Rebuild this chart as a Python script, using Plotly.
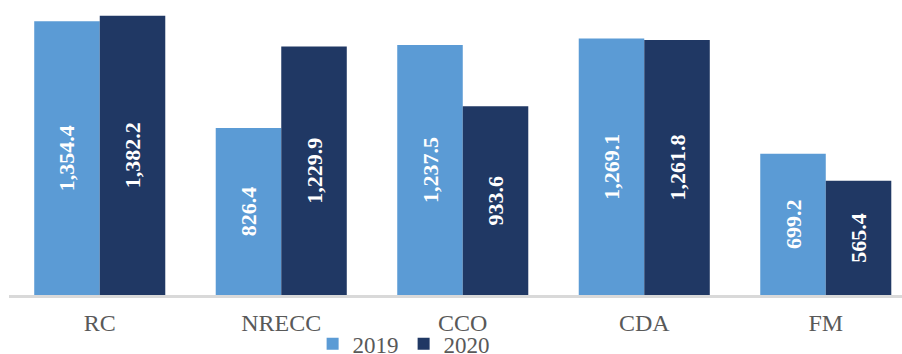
import plotly.graph_objects as go

categories = ["RC", "NRECC", "CCO", "CDA", "FM"]
values_2019 = [1354.4, 826.4, 1237.5, 1269.1, 699.2]
values_2020 = [1382.2, 1229.9, 933.6, 1261.8, 565.4]

SERIF = "Liberation Serif, Times New Roman, serif"
LIGHT = "#5B9BD5"
DARK = "#203864"

fig = go.Figure()
for name, vals, color in [("2019", values_2019, LIGHT), ("2020", values_2020, DARK)]:
    fig.add_trace(go.Bar(
        name=name,
        x=categories,
        y=vals,
        marker=dict(color=color, line=dict(color=color, width=0)),
        texttemplate="%{y:,.1f}",
        textposition="inside",
        insidetextanchor="middle",
        textangle=-90,
        insidetextfont=dict(family=SERIF, size=22, color="white", weight="bold"),
    ))

fig.update_layout(
    width=902,
    height=354,
    margin=dict(l=9, r=0, t=0, b=59, autoexpand=False),
    paper_bgcolor="white",
    plot_bgcolor="white",
    barmode="group",
    bargap=0.278,
    bargroupgap=0,
    showlegend=True,
    legend=dict(
        orientation="h",
        x=0.34,
        xanchor="left",
        y=-0.165,
        yanchor="middle",
        font=dict(family=SERIF, size=23, color="#595959"),
        bgcolor="rgba(0,0,0,0)",
        borderwidth=0,
        tracegroupgap=0,
    ),
    xaxis=dict(
        range=[-0.5, 4.42],
        showline=True,
        linecolor="#D9D9D9",
        linewidth=2.5,
        showgrid=False,
        zeroline=False,
        ticks="",
        ticklabelstandoff=4,
        tickfont=dict(family=SERIF, size=24, color="#595959"),
    ),
    yaxis=dict(
        range=[0, 1460],
        visible=False,
        showgrid=False,
        zeroline=False,
    ),
)

fig.write_html("out.html")
